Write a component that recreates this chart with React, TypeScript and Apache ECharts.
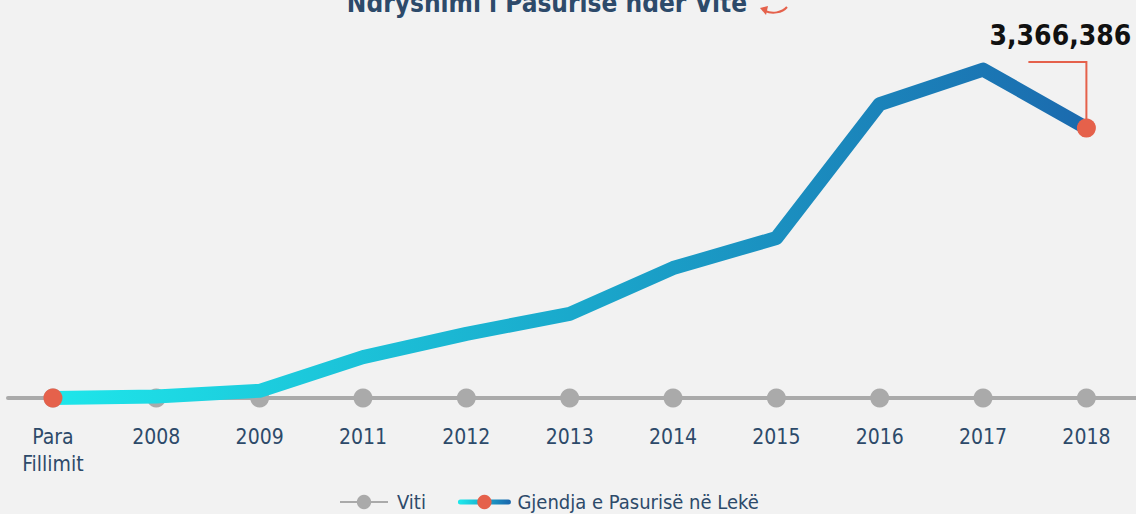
import React, { useEffect, useRef } from "react";
import * as echarts from "echarts";

const categories = ["Para\nFillimit", "2008", "2009", "2011", "2012", "2013", "2014", "2015", "2016", "2017", "2018"];
const wealthValues = [0, 20000, 90000, 510000, 800000, 1050000, 1620000, 1995000, 3665000, 4095000, 3366386];
const yearBaseline = [0, 0, 0, 0, 0, 0, 0, 0, 0, 0, 0];
const titleText = "Ndryshimi i Pasurisë ndër Vite";
const seriesNames = ["Viti", "Gjendja e Pasurisë në Lekë"];

const FONT = "'Liberation Sans Narrow', 'DejaVu Sans Condensed', sans-serif";
const NAVY = "#2d4a6a";
const ORANGE = "#e5614b";
const GRAY = "#aaaaaa";

export default function App() {
  const ref = useRef<HTMLDivElement>(null);
  useEffect(() => {
    if (!ref.current) return;
    const chart = echarts.init(ref.current, null, { renderer: "svg" });
    const lastIdx = wealthValues.length - 1;
    const mainData = wealthValues.map((v, i) => ({
      value: [i, v],
      symbol: i === 0 || i === lastIdx ? "circle" : "none",
    }));
    const grayData = yearBaseline.map((v, i) => [i, v]);
    const stops = [
      { offset: 0, color: "#1ee6ea" },
      { offset: 0.5, color: "#1aa9cc" },
      { offset: 1, color: "#1b6aae" },
    ];
    chart.setOption({
      animation: false,
      backgroundColor: "#f2f2f2",
      grid: { left: 8, right: 0, top: 45.1, bottom: 116, containLabel: false },
      xAxis: {
        type: "value",
        min: -0.435,
        max: 10.48,
        splitLine: { show: false },
        axisTick: { show: false },
        axisLine: { show: true, onZero: true, lineStyle: { color: GRAY, width: 4 } },
        axisLabel: {
          customValues: categories.map((_, i) => i),
          formatter: (v: number) => categories[Math.round(v)] ?? "",
          fontFamily: FONT,
          fontSize: 21,
          lineHeight: 27,
          color: NAVY,
          margin: 25,
          verticalAlign: "top",
        },
      },
      yAxis: {
        type: "value",
        min: 0,
        max: 4400000,
        show: false,
        splitLine: { show: false },
      },
      legend: {
        left: 334,
        top: 487,
        itemWidth: 48,
        itemHeight: 18,
        itemGap: 32,
        textStyle: { fontFamily: FONT, fontSize: 20, color: NAVY, padding: [0, 0, 0, 4] },
        data: [
          { name: seriesNames[0] },
          {
            name: seriesNames[1],
            lineStyle: { color: new echarts.graphic.LinearGradient(0, 0, 48, 0, stops, true), width: 5 },
          },
        ],
      },
      series: [
        {
          name: seriesNames[0],
          type: "line",
          data: grayData,
          symbol: "circle",
          symbolSize: 19,
          z: 2,
          itemStyle: { color: GRAY },
          lineStyle: { color: GRAY, width: 4 },
        },
        {
          name: seriesNames[1],
          type: "line",
          data: mainData,
          symbol: "circle",
          symbolSize: 19,
          showAllSymbol: true,
          z: 3,
          itemStyle: { color: ORANGE },
          lineStyle: {
            width: 14,
            join: "round",
            cap: "round",
            color: new echarts.graphic.LinearGradient(0, 0, 1, 0, stops),
          },
        },
      ],
    });
    const p = chart.convertToPixel({ seriesIndex: 1 }, [lastIdx, wealthValues[lastIdx]]) as number[];
    chart.setOption({
      graphic: [
        {
          type: "text",
          x: 547,
          y: -10,
          style: { text: titleText, fontFamily: FONT, fontSize: 26, fontWeight: "bold", fill: NAVY, align: "center" },
        },
        {
          type: "bezierCurve",
          shape: { x1: 787, y1: 7, cpx1: 782, cpy1: 13, cpx2: 772, cpy2: 14, x2: 765, y2: 11 },
          style: { stroke: ORANGE, lineWidth: 2, fill: "none" },
        },
        {
          type: "polygon",
          shape: { points: [[760, 8], [768, 6], [766, 15]] },
          style: { fill: ORANGE },
        },
        {
          type: "polyline",
          shape: { points: [[p[0] - 58, p[1] - 66], [p[0], p[1] - 66], [p[0], p[1]]] },
          style: { stroke: ORANGE, lineWidth: 2, fill: "none" },
          z: 1,
        },
        {
          type: "text",
          x: p[0] - 26,
          y: p[1] - 93,
          style: {
            text: "3,366,386",
            fontFamily: FONT,
            fontSize: 28,
            fontWeight: "bold",
            fill: "#111111",
            align: "center",
            verticalAlign: "middle",
          },
        },
      ],
    });
    return () => chart.dispose();
  }, []);
  return <div ref={ref} style={{ position: "absolute", left: 0, top: 0, width: 1136, height: 514 }} />;
}
